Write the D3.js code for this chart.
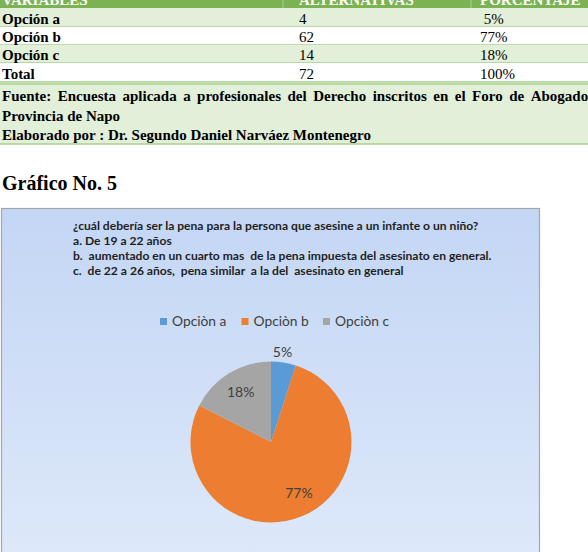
<!DOCTYPE html>
<html><head><meta charset="utf-8">
<script src="https://cdn.jsdelivr.net/npm/d3@7"></script>
<style>html,body{margin:0;padding:0;background:#fff;overflow:hidden}</style>
</head><body>
<svg id="c" width="588" height="552"></svg>
<script>
const headers = ["VARIABLES", "ALTERNATIVAS", "PORCENTAJE"];
const categories = ["Opción a", "Opción b", "Opción c"];
const alternativas = [4, 62, 14];
const porcentajes = ["5%", "77%", "18%"];
const totalRow = ["Total", "72", "100%"];
const pctDisplay = [" 5%", "77%", "18%"];
const footerLine1 = "Fuente: Encuesta aplicada a profesionales del Derecho inscritos en el Foro de Abogados";
const footerLines = ["Provincia de Napo", "Elaborado por : Dr. Segundo Daniel Narváez Montenegro"];
const figureTitle = "Gráfico No. 5";
const chartTitle = [
  "¿cuál debería ser la pena para la persona que asesine a un infante o un niño?",
  "a. De 19 a 22 años",
  "b.  aumentado en un cuarto mas  de la pena impuesta del asesinato en general.",
  "c.  de 22 a 26 años,  pena similar  a la del  asesinato en general"
];
const legendLabels = ["Opciòn a", "Opciòn b", "Opciòn c"];
const colors = ["#5B9BD5", "#ED7D31", "#A5A5A5"];

const svg = d3.select("#c");
const serif = "'Liberation Serif','Times New Roman',serif";

// ---- Table ----
const colX = [0, 283, 471, 600];
const textX = [2, 299, 480];
const rowEdges = [-12, 8, 27, 45, 63, 82];
const rows = categories.map((c, i) => [c, String(alternativas[i]), pctDisplay[i]]);
rows.push(totalRow);

svg.append("rect").attr("x", 0).attr("y", rowEdges[0]).attr("width", 588)
  .attr("height", rowEdges[1] - rowEdges[0]).attr("fill", "#7BB352");
[1, 2].forEach(i => svg.append("line").attr("x1", colX[i]).attr("x2", colX[i])
  .attr("y1", rowEdges[0]).attr("y2", rowEdges[1]).attr("stroke", "#A9D18E").attr("stroke-width", 1));
headers.forEach((h, j) => svg.append("text").attr("x", textX[j]).attr("y", 5)
  .attr("font-family", serif).attr("font-weight", "bold").attr("font-size", 15)
  .attr("fill", "#fff").text(h));

rows.forEach((r, i) => {
  const y0 = rowEdges[i + 1], y1 = rowEdges[i + 2];
  svg.append("rect").attr("x", 0).attr("y", y0).attr("width", 588).attr("height", y1 - y0)
    .attr("fill", i % 2 === 0 ? "#E2EFD9" : "#FFFFFF");
  svg.append("line").attr("x1", 0).attr("x2", 588).attr("y1", y1).attr("y2", y1)
    .attr("stroke", "#A8D08D").attr("stroke-width", 1.5);
  r.forEach((v, j) => svg.append("text").attr("x", textX[j]).attr("y", y1 - 3.5)
    .attr("font-family", serif).attr("font-size", 15)
    .attr("font-weight", j === 0 ? "bold" : "normal").attr("fill", "#000")
    .attr("xml:space", "preserve").style("white-space", "pre").text(v));
});

// ---- Footer ----
svg.append("rect").attr("x", -2).attr("y", 84).attr("width", 600).attr("height", 60)
  .attr("fill", "#E2EFD9").attr("stroke", "#A8D08D").attr("stroke-width", 1.5);
const words = footerLine1.split(" ");
const tmp = svg.append("g").attr("font-family", serif).attr("font-weight", "bold").attr("font-size", 15);
const widths = words.map(w => { const t = tmp.append("text").text(w); const l = t.node().getComputedTextLength(); t.remove(); return l; });
const totalW = d3.sum(widths);
const left = 2, right = 594;
const gap = (right - left - totalW) / (words.length - 1);
let cx = left;
words.forEach((w, i) => { tmp.append("text").attr("x", cx).attr("y", 101).attr("fill", "#000").text(w); cx += widths[i] + gap; });
footerLines.forEach((l, i) => svg.append("text").attr("x", 2).attr("y", 120.5 + i * 19)
  .attr("font-family", serif).attr("font-weight", "bold").attr("font-size", 15).attr("fill", "#000").text(l));

// ---- Figure title ----
svg.append("text").attr("x", 2).attr("y", 190).attr("font-family", serif).attr("font-weight", "bold")
  .attr("font-size", 20).attr("fill", "#000").text(figureTitle);

// ---- Chart area ----
const defs = svg.append("defs");
const grad = defs.append("linearGradient").attr("id", "bg").attr("x1", 0).attr("y1", 0).attr("x2", 0).attr("y2", 1);
grad.append("stop").attr("offset", "0%").attr("stop-color", "#C3D6F4");
grad.append("stop").attr("offset", "100%").attr("stop-color", "#DEE9FA");
svg.append("rect").attr("x", 1.5).attr("y", 208.5).attr("width", 538).attr("height", 360)
  .attr("fill", "url(#bg)").attr("stroke", "#A6A6A6").attr("stroke-width", 1.2);

const sans = "Lato,'Noto Sans',sans-serif";
chartTitle.forEach((l, i) => svg.append("text").attr("x", 73).attr("y", 230 + i * 15)
  .attr("font-family", sans).attr("font-weight", "bold").attr("font-size", 12.1)
  .attr("fill", "#1F1F1F").attr("xml:space", "preserve").style("white-space", "pre").text(l));

// Legend
const legX = d3.scalePoint().domain(legendLabels).range([160, 323]);
const leg = svg.append("g");
legendLabels.forEach((l, i) => {
  const x = legX(l);
  leg.append("rect").attr("x", x).attr("y", 318).attr("width", 7).attr("height", 7).attr("fill", colors[i]);
  leg.append("text").attr("x", x + 12).attr("y", 326).attr("font-family", sans).attr("font-size", 13.8)
    .attr("fill", "#404040").text(l);
});

// Pie
const cxP = 271, cyP = 442, R = 80.5;
const pie = d3.pie().sort(null).value(d => d)(alternativas);
const arc = d3.arc().innerRadius(0).outerRadius(R);
const g = svg.append("g").attr("transform", `translate(${cxP},${cyP})`);
g.selectAll("path").data(pie).join("path").attr("d", arc).attr("fill", (d, i) => colors[i]);
const labelR = d => (d.endAngle - d.startAngle) < 0.5 ? 91 : 58;
g.selectAll("text.lbl").data(pie).join("text").attr("class", "lbl")
  .attr("transform", d => { const r = labelR(d); const a = (d.startAngle + d.endAngle) / 2 - (d.index === 0 ? 0.03 : d.index === 1 ? 0.11 : 0); return `translate(${r * Math.sin(a)},${-r * Math.cos(a)})`; })
  .attr("text-anchor", "middle").attr("dy", "0.35em")
  .attr("font-family", sans).attr("font-size", 14).attr("fill", "#404040")
  .text((d, i) => porcentajes[i]);
</script>
</body></html>
